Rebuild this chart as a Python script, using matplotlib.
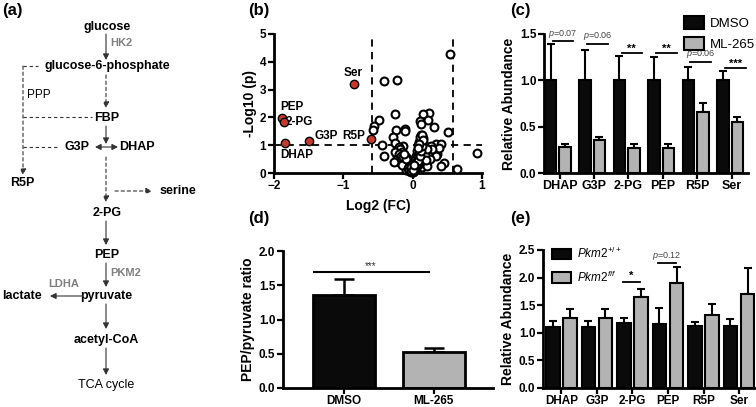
import matplotlib
matplotlib.use("Agg")
import matplotlib.pyplot as plt
import numpy as np

plt.rcParams['font.family'] = ['Liberation Sans', 'DejaVu Sans']
plt.rcParams['mathtext.fontset'] = 'custom'
plt.rcParams['mathtext.it'] = 'Liberation Sans:italic'
plt.rcParams['mathtext.rm'] = 'Liberation Sans'

# ---------------- data ----------------
# (b) volcano
red_names = ["PEP", "2-PG", "DHAP", "G3P", "Ser", "R5P"]
red_x = [-1.88, -1.86, -1.84, -1.50, -0.845, -0.60]
red_y = [1.98, 1.82, 1.08, 1.15, 3.20, 1.23]
open_x = [0.536, -0.41, -0.227, -0.256, 0.232, 0.145, 0.106, 0.217, 0.304, -0.49,
          -0.56, -0.565, -0.246, -0.116, -0.116, 0.12, 0.507, -0.285, -0.44, -0.41,
          -0.25, -0.145, 0.33, 0.415, 0.29, 0.357, 0.343, 0.449, 0.41, 0.638,
          0.932, 0.12, 0.105, 0.38,
          -0.20, -0.18, -0.16, -0.15, -0.13, -0.12, -0.10, -0.08, -0.06, -0.05,
          -0.03, -0.02, 0.0, -0.17, -0.14, -0.12, -0.10, -0.22, -0.20, -0.09,
          -0.06, -0.04, -0.25, -0.27,
          0.02, 0.04, 0.05, 0.06, 0.07, 0.08, 0.09, 0.10, 0.11, 0.12,
          0.13, 0.14, 0.15, 0.10, 0.12, 0.15, 0.18, 0.20, 0.22, 0.05,
          0.03, 0.17, 0.14, 0.25, 0.20, 0.08, 0.06, 0.09, 0.16, 0.26, 0.28,
          -0.19, -0.17, -0.15, -0.13, -0.11, -0.09, -0.07, -0.05, -0.04, -0.02,
          -0.01, 0.01, 0.01, 0.03, 0.04, 0.06, 0.07, 0.08, 0.09, 0.10,
          0.11, 0.12, 0.13, 0.14, 0.13, 0.11, 0.09, 0.07, 0.05, 0.03,
          -0.08, -0.11, -0.14, -0.16, 0.16, 0.18, 0.19, 0.21, 0.0, -0.01,
          -0.07, -0.05, -0.03, 0.02, 0.04, 0.06, 0.08, 0.10, 0.12, 0.14,
          0.11, 0.13, 0.15, 0.09, 0.07, -0.09, -0.12, -0.02, 0.0, 0.02]
open_y = [4.28, 3.32, 3.36, 2.12, 2.17, 2.11, 1.86, 1.89, 1.65, 1.90,
          1.70, 1.53, 1.56, 1.60, 1.51, 1.78, 1.49, 1.29, 1.00, 0.60,
          1.08, 0.96, 1.06, 1.06, 0.78, 0.70, 0.60, 0.36, 0.24, 0.14,
          0.72, 1.38, 1.20, 0.90,
          0.95, 0.85, 0.75, 0.65, 0.55, 0.48, 0.40, 0.32, 0.25, 0.18,
          0.12, 0.06, 0.02, 0.45, 0.35, 0.28, 0.20, 0.60, 0.40, 0.12,
          0.08, 0.40, 0.75, 0.38,
          0.08, 0.15, 0.25, 0.35, 0.45, 0.55, 0.65, 0.75, 0.85, 0.95,
          1.05, 1.15, 1.25, 0.30, 0.50, 0.62, 0.80, 0.95, 0.70, 0.60,
          0.45, 0.35, 0.20, 0.50, 0.25, 1.00, 0.80, 1.10, 1.00, 0.98, 0.85,
          0.70, 0.60, 0.52, 0.44, 0.36, 0.28, 0.22, 0.15, 0.10, 0.05,
          0.10, 0.04, 0.15, 0.20, 0.30, 0.40, 0.50, 0.60, 0.72, 0.82,
          0.92, 1.02, 1.12, 1.22, 0.88, 0.68, 0.48, 0.28, 0.38, 0.32,
          0.55, 0.62, 0.58, 0.30, 0.55, 0.65, 0.45, 0.85, 0.25, 0.18,
          0.18, 0.12, 0.08, 0.12, 0.22, 0.32, 0.42, 0.62, 0.78, 0.98,
          1.30, 1.35, 1.18, 1.05, 0.90, 0.50, 0.68, 0.22, 0.10, 0.30]

# (c)
metabolites = ["DHAP", "G3P", "2-PG", "PEP", "R5P", "Ser"]
dmso_mean = [1.0, 1.0, 1.0, 1.0, 1.0, 1.0]
dmso_err = [0.39, 0.33, 0.26, 0.25, 0.14, 0.10]
ml_mean = [0.28, 0.355, 0.275, 0.27, 0.66, 0.55]
ml_err = [0.03, 0.035, 0.035, 0.04, 0.10, 0.055]
c_sig = ["$p$=0.07", "$p$=0.06", "**", "**", "$p$=0.06", "***"]
c_sig_y = [1.42, 1.39, 1.30, 1.30, 1.20, 1.13]

# (d)
d_groups = ["DMSO", "ML-265"]
d_mean = [1.36, 0.52]
d_err = [0.23, 0.07]

# (e)
wt_mean = [1.10, 1.10, 1.175, 1.16, 1.13, 1.13]
wt_err = [0.12, 0.12, 0.10, 0.29, 0.07, 0.12]
ff_mean = [1.26, 1.26, 1.655, 1.895, 1.33, 1.70]
ff_err = [0.17, 0.17, 0.14, 0.30, 0.19, 0.48]

BLACK = "#0a0a0a"
GREY = "#b3b3b3"
RED = "#c8392d"

W, H = 756, 407
fig = plt.figure(figsize=(W / 100, H / 100), dpi=100)


def ax_at(l, t, r, b):
    return fig.add_axes([l / W, 1 - b / H, (r - l) / W, (b - t) / H])


def prism(ax, xsize=8.5):
    for s in ["top", "right"]:
        ax.spines[s].set_visible(False)
    for s in ["left", "bottom"]:
        ax.spines[s].set_linewidth(2)
    ax.tick_params(direction="out", length=4, width=1.6, labelsize=8.5, pad=1.5)
    ax.tick_params(axis="x", labelsize=xsize, pad=1)
    for lab in ax.get_xticklabels() + ax.get_yticklabels():
        lab.set_fontweight("bold")


# ---------------- overlay for panel (a) + labels ----------------
ov = fig.add_axes([0, 0, 1, 1], zorder=-1)
ov.set_xlim(0, W)
ov.set_ylim(H, 0)
ov.axis("off")

for lbl, x, y in [("(a)", 2, 11), ("(b)", 248, 11), ("(c)", 510, 11), ("(d)", 248, 218), ("(e)", 510, 218)]:
    ov.text(x, y, lbl, fontsize=12, fontweight="bold", ha="left", va="center")

AC = "#333333"


def arr(x0, y0, x1, y1, dashed=False, style="-|>"):
    ov.annotate("", xy=(x1, y1), xytext=(x0, y0),
                arrowprops=dict(arrowstyle=style + ",head_length=0.35,head_width=0.18",
                                color=AC, lw=0.8, linestyle=(0, (3, 2.5)) if dashed else "-",
                                shrinkA=0, shrinkB=0))


def dline(x0, y0, x1, y1):
    ov.plot([x0, x1], [y0, y1], color=AC, lw=0.8, linestyle=(0, (3, 2.5)))


def node(x, y, s, bold=True, color="black", ha="center", size=9):
    ov.text(x, y, s, fontsize=size, fontweight="bold" if bold else "normal",
            color=color, ha=ha, va="center")


node(107, 27, "glucose")
arr(106, 34, 106, 60)
node(110, 43, "HK2", color="#808080", ha="left", size=8)
node(107, 66, "glucose-6-phosphate")
dline(23, 66, 38, 66)
arr(23, 66, 23, 175, dashed=True)
node(27, 95, "PPP", bold=False, ha="left", size=8.5)
arr(106, 75, 106, 108, dashed=True)
node(107, 118, "FBP")
dline(23, 117, 92, 117)
arr(106, 126, 106, 144)
node(77, 147, "G3P")
node(137, 147, "DHAP")
arr(95, 147, 118, 147, style="<|-|>")
dline(23, 147, 57, 147)
node(22, 183, "R5P")
arr(106, 157, 106, 202, dashed=True)
arr(115, 191, 152, 191, dashed=True)
node(178, 191, "serine")
node(107, 213, "2-PG")
arr(106, 221, 106, 245)
node(107, 255, "PEP")
arr(106, 263, 106, 287)
node(110, 273, "PKM2", color="#808080", ha="left", size=8)
node(64, 284, "LDHA", color="#808080", size=8)
node(106, 296, "pyruvate")
node(22, 296, "lactate")
arr(83, 296, 50, 296)
arr(106, 304, 106, 329)
node(106, 340, "acetyl-CoA")
arr(106, 348, 106, 375)
node(106, 385, "TCA cycle", bold=False)

# ---------------- (b) volcano ----------------
axb = ax_at(274, 34, 482, 173)
axb.scatter(open_x, open_y, s=32, facecolors="white", edgecolors="black", linewidths=1.5,
            zorder=3, clip_on=False)
axb.scatter(red_x, red_y, s=36, facecolors=RED, edgecolors="black", linewidths=1.0,
            zorder=4, clip_on=False)
thr = np.log2(1.5)
axb.axvline(-thr, color="black", lw=1.3, ls=(0, (4, 3)), zorder=2)
axb.axvline(thr, color="black", lw=1.3, ls=(0, (4, 3)), zorder=2)
axb.axhline(1, color="black", lw=1.3, ls=(0, (4, 3)), zorder=2)
axb.set_xlim(-2, 1)
axb.set_ylim(0, 5)
axb.set_xticks([-2, -1, 0, 1])
axb.set_yticks([0, 1, 2, 3, 4, 5])
axb.set_xlabel("Log2 (FC)", fontsize=10, fontweight="bold", labelpad=5)
axb.set_ylabel("-Log10 (p)", fontsize=10, fontweight="bold", labelpad=2)
prism(axb)
lbl_pos = {"PEP": (-1.74, 2.38, "center"), "2-PG": (-1.83, 1.82, "left"),
           "DHAP": (-1.67, 0.66, "center"), "G3P": (-1.42, 1.32, "left"),
           "Ser": (-0.855, 3.6, "center"), "R5P": (-0.845, 1.32, "center")}
for n in red_names:
    x, y, ha = lbl_pos[n]
    axb.text(x, y, n, fontsize=8.5, fontweight="bold", ha=ha, va="center")

# ---------------- (c) ----------------
axc = ax_at(544, 34, 748, 173)
xc = np.arange(len(metabolites))
off, bw = 0.21, 0.33
axc.bar(xc - off, dmso_mean, bw, color=BLACK, edgecolor="black", lw=1.5, label="DMSO", zorder=2)
axc.bar(xc + off, ml_mean, bw, color=GREY, edgecolor="black", lw=1.5, label="ML-265", zorder=2)
axc.errorbar(xc - off, dmso_mean, yerr=[np.zeros(6), dmso_err], fmt="none", ecolor="black",
             elinewidth=1.5, capsize=3, capthick=1.5, zorder=1)
axc.errorbar(xc + off, ml_mean, yerr=[np.zeros(6), ml_err], fmt="none", ecolor="black",
             elinewidth=1.5, capsize=3, capthick=1.5, zorder=1)
for i, (s, y) in enumerate(zip(c_sig, c_sig_y)):
    axc.plot([i - 0.15, i + 0.45], [y, y], color="black", lw=1.3, clip_on=False)
    if s.startswith("$"):
        axc.text(i + 0.15, y + 0.02, s, fontsize=6.5, color="#444444", ha="center", va="bottom")
    else:
        axc.text(i + 0.15, y - 0.01, s, fontsize=8, fontweight="bold", ha="center", va="bottom")
axc.set_xlim(-0.4, 5.52)
axc.set_ylim(0, 1.5)
axc.set_xticks(xc + 0.05)
axc.set_xticklabels(metabolites)
axc.set_yticks([0, 0.5, 1.0, 1.5])
axc.set_yticklabels(["0.0", "0.5", "1.0", "1.5"])
axc.set_ylabel("Relative Abundance", fontsize=10, fontweight="bold", labelpad=3)
prism(axc, xsize=9)
axc.legend(loc="upper left", bbox_to_anchor=(684 / W, 1 - 16 / H), bbox_transform=fig.transFigure,
           frameon=False, fontsize=9.5, handlelength=1.5, handleheight=1.1, labelspacing=0.55,
           handletextpad=0.45, borderpad=0, borderaxespad=0)

# ---------------- (d) ----------------
axd = ax_at(283, 251, 493, 388)
xd = np.arange(2)
axd.bar(xd, d_mean, 0.69, color=[BLACK, GREY], edgecolor="black", lw=2, zorder=2)
axd.errorbar(xd, d_mean, yerr=[np.zeros(2), d_err], fmt="none", ecolor="black",
             elinewidth=1.8, capsize=7, capthick=1.8, zorder=1)
axd.plot([-0.34, 0.95], [1.69, 1.69], color="black", lw=1.5)
axd.text(0.3, 1.71, "***", fontsize=7, ha="center", va="bottom", color="#333333")
axd.set_xlim(-0.68, 1.66)
axd.set_ylim(0, 2.0)
axd.set_xticks(xd)
axd.set_xticklabels(d_groups)
axd.set_yticks([0, 0.5, 1.0, 1.5, 2.0])
axd.set_yticklabels(["0.0", "0.5", "1.0", "1.5", "2.0"])
axd.set_ylabel("PEP/pyruvate ratio", fontsize=10, fontweight="bold", labelpad=3)
prism(axd, xsize=8.5)

# ---------------- (e) ----------------
axe = ax_at(543, 250, 755, 388)
xe = np.arange(len(metabolites))
off_e, bw_e = 0.24, 0.39
axe.bar(xe - off_e, wt_mean, bw_e, color=BLACK, edgecolor="black", lw=1.5,
        label="$Pkm2^{+/+}$", zorder=2)
axe.bar(xe + off_e, ff_mean, bw_e, color=GREY, edgecolor="black", lw=1.5,
        label="$Pkm2^{f/f}$", zorder=2)
axe.errorbar(xe - off_e, wt_mean, yerr=[np.zeros(6), wt_err], fmt="none", ecolor="black",
             elinewidth=1.5, capsize=3, capthick=1.5, zorder=1)
axe.errorbar(xe + off_e, ff_mean, yerr=[np.zeros(6), ff_err], fmt="none", ecolor="black",
             elinewidth=1.5, capsize=3, capthick=1.5, zorder=1)
axe.plot([2 - 0.28, 2 + 0.22], [1.92, 1.92], color="black", lw=1.3)
axe.text(1.97, 1.94, "*", fontsize=8, fontweight="bold", ha="center", va="bottom")
axe.plot([3 - 0.28, 3 + 0.22], [2.27, 2.27], color="black", lw=1.3)
axe.text(2.97, 2.29, "$p$=0.12", fontsize=6.5, color="#444444", ha="center", va="bottom")
axe.set_xlim(-0.52, 5.45)
axe.set_ylim(0, 2.5)
axe.set_xticks(xe)
axe.set_xticklabels(metabolites)
axe.set_yticks([0, 0.5, 1.0, 1.5, 2.0, 2.5])
axe.set_yticklabels(["0.0", "0.5", "1.0", "1.5", "2.0", "2.5"])
axe.set_ylabel("Relative Abundance", fontsize=10, fontweight="bold", labelpad=3)
prism(axe, xsize=8.5)
axe.legend(loc="upper left", bbox_to_anchor=(552 / W, 1 - 246 / H), bbox_transform=fig.transFigure,
           frameon=False, fontsize=8.5, handlelength=1.6, handleheight=1.0, labelspacing=0.7,
           handletextpad=0.5, borderpad=0, borderaxespad=0)

fig.savefig("out.png", dpi=100)
